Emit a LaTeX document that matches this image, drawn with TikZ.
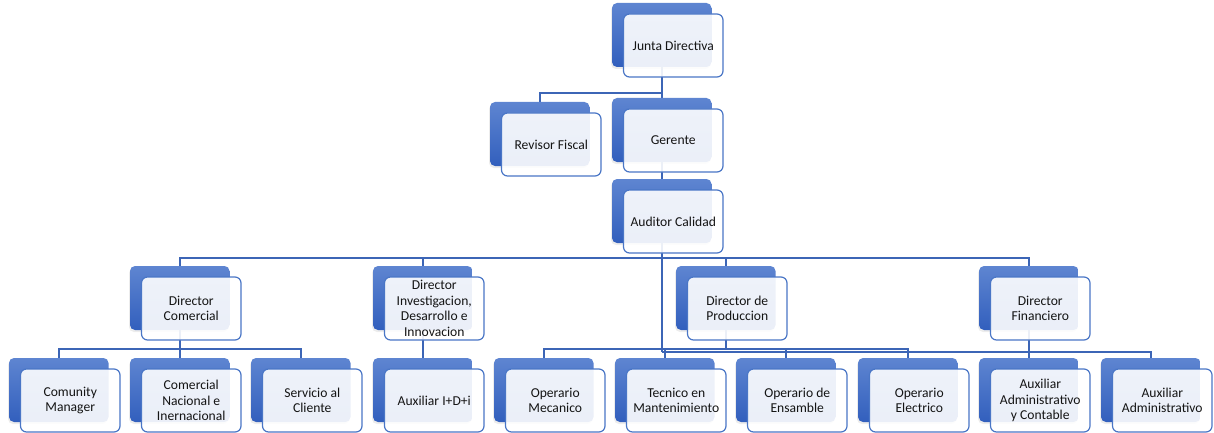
\documentclass[tikz,border=0pt]{standalone}
\usepackage{fontspec}
\setmainfont{Carlito}
\usetikzlibrary{backgrounds,shadows}
\definecolor{lineblue}{RGB}{60,101,182}
\definecolor{boxtop}{RGB}{94,133,209}
\definecolor{boxbot}{RGB}{50,95,189}
\definecolor{frameblue}{RGB}{74,118,198}
\definecolor{txt}{RGB}{20,20,20}
\tikzset{
 backbox/.style={rounded corners=5pt, minimum width=99.5pt, minimum height=64pt, inner sep=0pt,
   top color=boxtop, bottom color=boxbot, draw=none,
   drop shadow={shadow xshift=-1pt,shadow yshift=-2pt,opacity=0.15}},
 frontbox/.style={rounded corners=6pt, minimum width=99.5pt, minimum height=63pt, inner sep=0pt,
   draw=frameblue, line width=1.2pt, fill=white, fill opacity=0.9, draw opacity=1, text opacity=1,
   align=center, font=\fontsize{13.6}{15.5}\selectfont, text=txt},
 conn/.style={draw=lineblue, line width=2.5pt},
}
\newcommand\orgnode[4]{%
 \node[backbox] (#1) at ({#2+49.75},{#3+32}) {};
 \node[frontbox] (#1f) at ({#2+61.25},{#3+42.5}) {#4};
}
\begin{document}
\begin{tikzpicture}[x=1pt,y=-1pt]
\useasboundingbox (0,0) rectangle (1214,433);
\orgnode{jd}{612}{3}{Junta Directiva}
\orgnode{rf}{490}{102}{Revisor Fiscal}
\orgnode{ge}{612}{98}{Gerente}
\orgnode{ac}{612}{179}{Auditor Calidad}
\orgnode{dc}{130}{266}{Director\\Comercial}
\orgnode{di}{373}{266}{Director\\Investigacion,\\Desarrollo e\\Innovacion}
\orgnode{dp}{676}{266}{Director de\\Produccion}
\orgnode{df}{979}{266}{Director\\Financiero}
\orgnode{cm}{9}{358}{Comunity\\Manager}
\orgnode{cn}{130}{358}{Comercial\\Nacional e\\Inernacional}
\orgnode{sc}{251}{358}{Servicio al\\Cliente}
\orgnode{ai}{373}{358}{Auxiliar I+D+i}
\orgnode{om}{494}{358}{Operario\\Mecanico}
\orgnode{tm}{615}{358}{Tecnico en\\Mantenimiento}
\orgnode{oe}{736}{358}{Operario de\\Ensamble}
\orgnode{oel}{858}{358}{Operario\\Electrico}
\orgnode{aac}{979}{358}{Auxiliar\\Administrativo\\y Contable}
\orgnode{aa}{1101}{358}{Auxiliar\\Administrativo}
\begin{scope}[on background layer]
 \coordinate (b1) at (661.75,93);
 \coordinate (b2) at (661.75,258);
 \coordinate (b3) at (179.75,349);
 \coordinate (b4) at (725.75,349);
 \coordinate (b5) at (661.75,352);
 \draw[conn] (jd.center) -- (ge.center);
 \draw[conn] (b1) -| (rf.center);
 \draw[conn] (ge.center) -- (ac.center);
 \draw[conn] (ac.center) -- (b2);
 \draw[conn] (b2) -| (dc.center);
 \draw[conn] (b2) -| (di.center);
 \draw[conn] (b2) -| (dp.center);
 \draw[conn] (b2) -| (df.center);
 \draw[conn] (dc.center) -- (b3);
 \draw[conn] (b3) -| (cm.center);
 \draw[conn] (b3) -| (cn.center);
 \draw[conn] (b3) -| (sc.center);
 \draw[conn] (di.center) -- (ai.center);
 \draw[conn] (dp.center) -- (b4);
 \draw[conn] (b4) -| (om.center);
 \draw[conn] (b4) -| (tm.center);
 \draw[conn] (b4) -| (oe.center);
 \draw[conn] (b4) -| (oel.center);
 \draw[conn] (b2) -- (b5);
 \draw[conn] (b5) -| (aa.center);
 \draw[conn] (df.center) -- (aac.center);
\end{scope}
\end{tikzpicture}
\end{document}
